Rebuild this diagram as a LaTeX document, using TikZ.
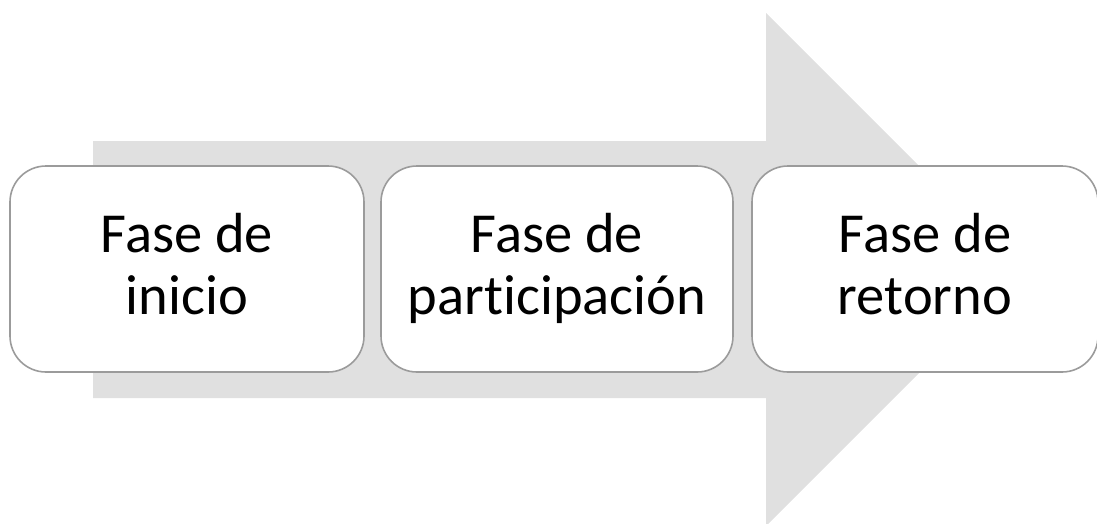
\documentclass[tikz,border=0pt]{standalone}
\usepackage{fontspec}
\setmainfont[Ligatures=NoCommon]{Carlito}
\definecolor{ArrowGray}{RGB}{224,224,224}
\definecolor{EdgeGray}{RGB}{155,155,155}
\usetikzlibrary{positioning}
\tikzstyle{phase} = [draw=EdgeGray, line width=1.6pt, fill=white, rounded corners=36pt, minimum height=206pt, align=center, font=\fontsize{56.5}{62}\selectfont, inner sep=0pt]
\newcommand{\topline}{\rule{0pt}{40pt}}
\newcommand{\botline}{\rule[-12pt]{0pt}{0pt}}

\begin{document}
\begin{tikzpicture}[x=1pt, y=-1pt]
                \useasboundingbox (0,0) rectangle (1097,523);
                \clip (0,0) rectangle (1097,523);
                
                % big background arrow
                \fill[ArrowGray] (93,141) -- (766,141) -- (766,13) -- (1022.5,269.5) -- (766,526) -- (766,398) -- (93,398) -- cycle;
                
                % the three phases
                \node[phase, minimum width=354pt] (inicio) at (187,269) {\topline Fase de\\inicio\botline};
                \node[phase, minimum width=352pt] (participacion) at (557,269) {\topline Fase de\\participación\botline};
                \node[phase, minimum width=346pt] (retorno) at (925,269) {\topline Fase de\\retorno\botline};
            \end{tikzpicture}
\end{document}
